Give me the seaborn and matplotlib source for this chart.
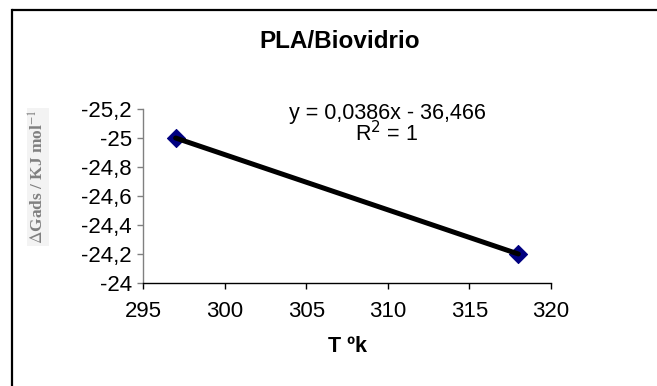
import matplotlib
matplotlib.use("Agg")
import matplotlib.pyplot as plt
import seaborn as sns
import pandas as pd
from matplotlib.lines import Line2D

# Data
temperature = [297, 318]
delta_g = [-25.0, -24.2]
x_ticks = [295, 300, 305, 310, 315, 320]
y_ticks = [-25.2, -25.0, -24.8, -24.6, -24.4, -24.2, -24.0]
y_tick_labels = ["-25,2", "-25", "-24,8", "-24,6", "-24,4", "-24,2", "-24"]
title = "PLA/Biovidrio"
x_label = "T ºk"
y_label = r"$\Delta$Gads / KJ mol$^{-1}$"
equation = "y = 0,0386x - 36,466"

df = pd.DataFrame({"T": temperature, "G": delta_g})

sns.set_theme(style="white")
plt.rcParams["font.family"] = ["Liberation Sans", "DejaVu Sans"]

W, H = 657, 386
fig = plt.figure(figsize=(W / 100, H / 100), dpi=100)
ax = fig.add_axes([143 / W, 1 - 283 / H, (551 - 143) / W, (283 - 109) / H])

sns.scatterplot(data=df, x="T", y="G", ax=ax, marker="D", s=85,
                color="#000080", edgecolor="#000080", zorder=2, legend=False)
sns.lineplot(data=df, x="T", y="G", ax=ax, color="black", linewidth=3.6,
             zorder=3, legend=False)

ax.set_xlim(295, 320)
ax.set_ylim(-24.0, -25.2)
ax.set_xticks(x_ticks)
ax.set_xticklabels([str(v) for v in x_ticks])
ax.set_yticks(y_ticks)
ax.set_yticklabels(y_tick_labels)

for s in ["top", "right"]:
    ax.spines[s].set_visible(False)
ax.spines["left"].set_color("#808080")
ax.spines["left"].set_linewidth(1.0)
ax.spines["bottom"].set_color("black")
ax.spines["bottom"].set_linewidth(1.0)

ax.tick_params(axis="x", direction="out", length=4, width=1, color="black",
               pad=9, labelsize=16, labelcolor="black", bottom=True)
ax.tick_params(axis="y", direction="out", length=4, width=1, color="#808080",
               pad=4, labelsize=16, labelcolor="black", left=True)
ax.set_xlabel("")
ax.set_ylabel("")

fig.text(340 / W, 1 - 41 / H, title, ha="center", va="center",
         fontsize=17.5, fontweight="bold", color="black")
fig.text(348 / W, 1 - 347 / H, x_label, ha="center", va="center",
         fontsize=15.5, fontweight="bold", color="black")
fig.text(38 / W, 1 - 177 / H, y_label, ha="center", va="center", rotation=90,
         fontsize=12.5, fontweight="bold", color="#808080",
         family=["Liberation Serif", "DejaVu Serif"],
         math_fontfamily="stix",
         bbox=dict(facecolor="#f3f3f3", edgecolor="none", pad=1))
fig.text(387 / W, 1 - 113 / H, equation, ha="center", va="center",
         fontsize=15.5, color="black")
fig.text(387 / W, 1 - 134 / H, r"R$^2$ = 1", ha="center", va="center",
         fontsize=15.5, color="black", math_fontfamily="custom")

fig.add_artist(Line2D([11.5 / W, 1.1], [1 - 10 / H, 1 - 10 / H],
                      transform=fig.transFigure, color="black", linewidth=1.6,
                      solid_capstyle="butt"))
fig.add_artist(Line2D([11.5 / W, 11.5 / W], [-0.1, 1 - 10 / H],
                      transform=fig.transFigure, color="black", linewidth=1.6,
                      solid_capstyle="projecting"))

fig.savefig("out.png", dpi=100)
